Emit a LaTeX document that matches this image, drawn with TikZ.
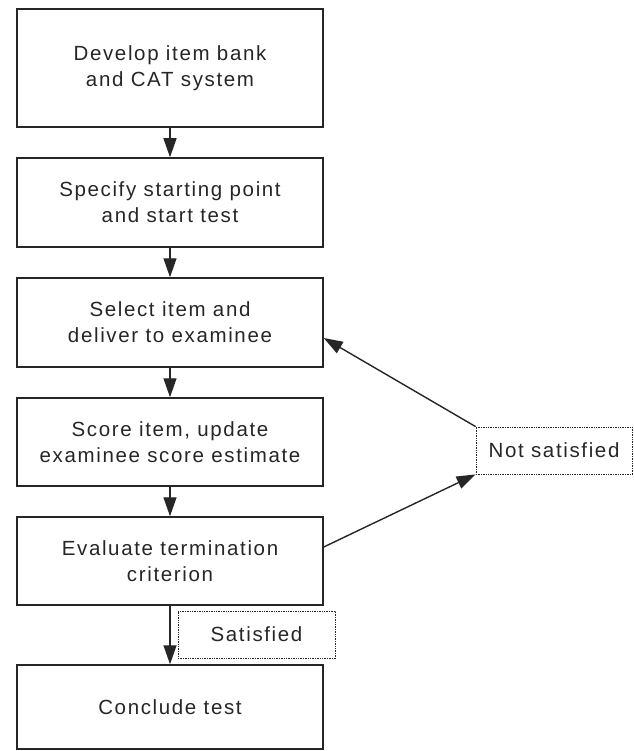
\documentclass[tikz,border=0pt]{standalone}
\usepackage{fontspec}
\setmainfont{Liberation Sans}[LetterSpace=8]
\usetikzlibrary{arrows.meta}
\definecolor{ink}{gray}{0.15}
\tikzset{
  stepbox/.style={draw=ink, line width=1.5pt, minimum width=306pt, align=center, text=ink, inner sep=0pt,
    font=\fontsize{20.5}{26}\selectfont},
  tagbox/.style={draw=ink, line width=0.8pt, dash pattern=on 1.4pt off 1pt, minimum width=156pt, minimum height=47pt,
    text=ink, inner sep=0pt, font=\fontsize{20.5}{26}\selectfont},
  flow/.style={draw=ink, line width=1.4pt, -{Triangle[length=19pt,width=13pt]}},
}
\begin{document}
\begin{tikzpicture}[x=1pt,y=-1pt]
\useasboundingbox (0,0) rectangle (633,751);
\node[stepbox, minimum height=118pt] (b1) at (170,68) {Develop item bank\\and CAT system};
\node[stepbox, minimum height=89pt] (b2) at (170,202.5) {Specify starting point\\and start test};
\node[stepbox, minimum height=89pt] (b3) at (170,322.5) {Select item and\\deliver to examinee};
\node[stepbox, minimum height=88pt] (b4) at (170,442) {Score item, update\\examinee score estimate};
\node[stepbox, minimum height=88pt] (b5) at (170,561) {Evaluate termination\\criterion};
\node[stepbox, minimum height=84pt] (b6) at (170,707) {Conclude test};
\node[tagbox] (ns) at (554,450.5) {Not satisfied};
\node[tagbox, minimum width=157pt] (sat) at (256.5,634.5) {Satisfied};
\draw[flow] (b1) -- (b2);
\draw[flow] (b2) -- (b3);
\draw[flow] (b3) -- (b4);
\draw[flow] (b4) -- (b5);
\draw[flow] (b5) -- (b6);
\draw[flow] ([yshift=14pt]b5.east) -- (ns.south west);
\draw[flow] (ns.north west) -- ([yshift=-15.5pt]b3.east);
\end{tikzpicture}
\end{document}
